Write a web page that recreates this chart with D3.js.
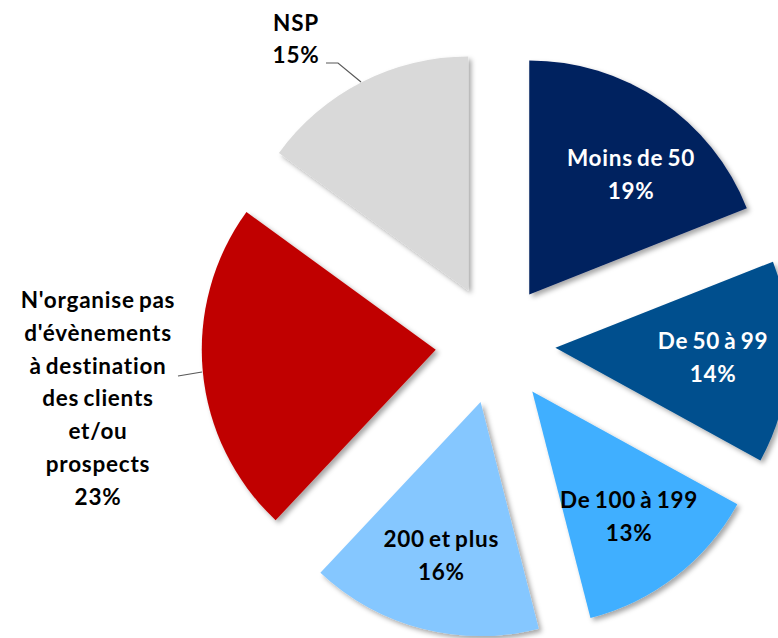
<!DOCTYPE html>
<html>
<head>
<meta charset="utf-8">
<script src="https://cdn.jsdelivr.net/npm/d3@7"></script>
<style>
  html, body { margin: 0; padding: 0; background: #fff; }
  svg { display: block; }
  text { font-family: Lato, "Open Sans", sans-serif; font-weight: 700; }
</style>
</head>
<body>
<svg id="chart" width="778" height="638"></svg>
<script>
// Data
const categories = ["Moins de 50", "De 50 à 99", "De 100 à 199", "200 et plus",
  "N'organise pas d'évènements à destination des clients et/ou prospects", "NSP"];
const values = [19, 14, 13, 16, 23, 15];
const colors = ["#00205F", "#00508E", "#41AFFF", "#85C7FF", "#C00000", "#D9D9D9"];
const labelLines = [
  ["Moins de 50", "19%"],
  ["De 50 à 99", "14%"],
  ["De 100 à 199", "13%"],
  ["200 et plus", "16%"],
  ["N'organise pas", "d'évènements", "à destination", "des clients", "et/ou", "prospects", "23%"],
  ["NSP", "15%"]
];
const textColors = ["#fff", "#fff", "#000", "#000", "#000", "#000"];

// Layout
const W = 778, H = 638;
const cx = 495.5, cy = 344;
const R = 234, explode = 60;
const svg = d3.select("#chart");

const defs = svg.append("defs");
const f = defs.append("filter").attr("id", "sh").attr("x", "-20%").attr("y", "-20%").attr("width", "140%").attr("height", "140%");
f.append("feDropShadow").attr("dx", 3).attr("dy", 3).attr("stdDeviation", 2.5)
  .attr("flood-color", "#000").attr("flood-opacity", 0.35);

const pie = d3.pie().sort(null).value(d => d).startAngle(0).endAngle(2 * Math.PI);
const arcs = pie(values);
const arc = d3.arc().innerRadius(0).outerRadius(R);

const g = svg.append("g").attr("transform", `translate(${cx},${cy})`);

arcs.forEach((a, i) => {
  const mid = (a.startAngle + a.endAngle) / 2;
  const ox = Math.sin(mid) * explode, oy = -Math.cos(mid) * explode;
  g.append("path")
    .attr("d", arc(a))
    .attr("transform", `translate(${ox},${oy})`)
    .attr("fill", colors[i])
    .attr("filter", "url(#sh)");
});

// Labels: inside labels along bisector; outside labels placed left
const lineH = 33;
const insideR = 218;
const nudge = [[13, 11], [0, 0], [0, 0], [0, 0]];
arcs.forEach((a, i) => {
  const mid = (a.startAngle + a.endAngle) / 2;
  let x, y0;
  const lines = labelLines[i];
  if (i < 4) {
    x = cx + Math.sin(mid) * insideR + nudge[i][0];
    const yc = cy - Math.cos(mid) * insideR + nudge[i][1];
    y0 = yc - (lines.length - 1) * lineH / 2;
  } else if (i === 4) {
    x = 98; y0 = 300;
  } else {
    x = 296; y0 = 23;
  }
  const step = i === 4 ? 32.8 : (i === 5 ? 32 : lineH);
  const t = svg.append("text").attr("text-anchor", "middle").attr("fill", textColors[i])
    .attr("font-size", 22.5).attr("letter-spacing", 0.75).attr("word-spacing", -2);
  lines.forEach((l, k) => {
    t.append("tspan").attr("x", x).attr("y", y0 + k * step + 8).text(l);
  });
});

// Leader lines
const leader = d3.line();
svg.append("path").attr("d", leader([[326, 63], [338, 63], [361, 82]]))
  .attr("fill", "none").attr("stroke", "#595959").attr("stroke-width", 1.2);
svg.append("path").attr("d", leader([[178, 376], [202, 372]]))
  .attr("fill", "none").attr("stroke", "#595959").attr("stroke-width", 1.2);
</script>
</body>
</html>
